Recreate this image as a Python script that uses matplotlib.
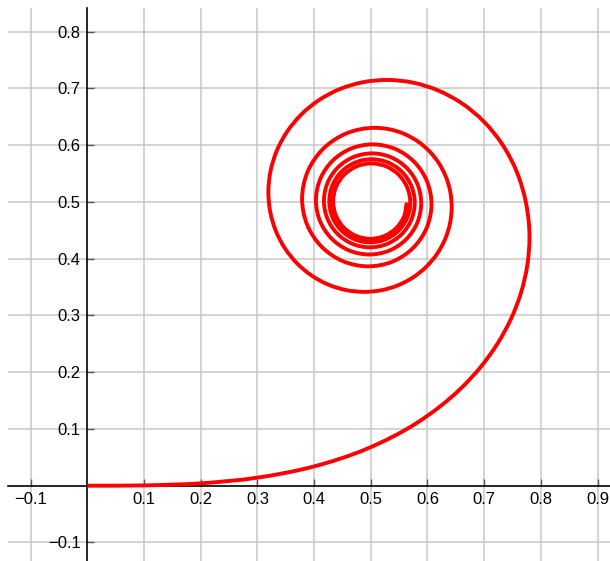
import matplotlib.pyplot as plt
from matplotlib.path import Path
from matplotlib.patches import PathPatch

# points read along the spiral (x, y)
spiral_x = [
    0.0, 0.09999, 0.19992, 0.29940, 0.39748, 0.49234, 0.58110, 0.65965, 0.69353,
    0.72284, 0.74686, 0.76482, 0.77604, 0.77989,
    0.77365, 0.75736, 0.73201, 0.69929, 0.66092, 0.61868, 0.57436, 0.52967,
    0.48626, 0.44562, 0.40911, 0.37784, 0.35273, 0.33440, 0.32325, 0.31937,
    0.32263, 0.33261, 0.34870, 0.37008, 0.39576, 0.42461, 0.45548, 0.48712,
    0.51832, 0.54792, 0.57486, 0.59818, 0.61712, 0.63107, 0.63965, 0.64264,
    0.64009, 0.63222, 0.61945, 0.60240, 0.58179, 0.55850, 0.53344, 0.50763,
    0.45766, 0.41600, 0.38852, 0.37882, 0.38769, 0.41317, 0.45089, 0.49481,
    0.53816, 0.57446, 0.59849, 0.60699, 0.59913, 0.57654, 0.54301, 0.50383,
    0.46506, 0.43251, 0.41092, 0.40327, 0.41039, 0.43089, 0.46136, 0.49702,
    0.53238, 0.56212, 0.58189, 0.58888, 0.58232, 0.56345, 0.53534, 0.50241,
    0.46971, 0.44217, 0.42385, 0.41736, 0.42348, 0.44106, 0.46728, 0.49801,
    0.52855, 0.55431, 0.57143, 0.57751, 0.57176, 0.55525, 0.53060, 0.50169,
    0.47292, 0.44866, 0.43250, 0.42678, 0.43222, 0.44784, 0.47116, 0.49854,
    0.52580, 0.54879, 0.56412, 0.56955, 0.56437, 0.54951, 0.52733, 0.50127,
    0.47532, 0.45341, 0.43880, 0.43364, 0.43857, 0.45277, 0.47397, 0.49888,
    0.52368, 0.54465, 0.55863, 0.56357,
]
spiral_y = [
    0.0, 0.00052, 0.00419, 0.01412, 0.03336, 0.06473, 0.11054, 0.17218, 0.20888,
    0.24934, 0.29316, 0.33970, 0.38846, 0.43826,
    0.49866, 0.55333, 0.60136, 0.64171, 0.67360, 0.69652, 0.71029, 0.71500,
    0.71103, 0.69902, 0.67984, 0.65456, 0.62441, 0.59073, 0.55493, 0.51841,
    0.48258, 0.44874, 0.41807, 0.39162, 0.37023, 0.35453, 0.34492, 0.34156,
    0.34439, 0.35312, 0.36727, 0.38613, 0.40885, 0.43451, 0.46202, 0.49032,
    0.51830, 0.54493, 0.56922, 0.59031, 0.60747, 0.62014, 0.62793, 0.63066,
    0.62111, 0.59371, 0.55323, 0.50621, 0.45990, 0.42118, 0.39559, 0.38655,
    0.39486, 0.41878, 0.45423, 0.49557, 0.53644, 0.57073, 0.59345, 0.60149,
    0.59403, 0.57256, 0.54066, 0.50336, 0.46641, 0.43536, 0.41473, 0.40743,
    0.41425, 0.43389, 0.46312, 0.49733, 0.53129, 0.55987, 0.57885, 0.58560,
    0.57927, 0.56107, 0.53397, 0.50218, 0.47061, 0.44402, 0.42632, 0.42004,
    0.42597, 0.44299, 0.46838, 0.49817, 0.52779, 0.55276, 0.56939, 0.57528,
    0.56970, 0.55364, 0.52969, 0.50157, 0.47359, 0.44998, 0.43426, 0.42869,
    0.43398, 0.44922, 0.47195, 0.49864, 0.52521, 0.54766, 0.56261, 0.56790,
    0.56285, 0.54833, 0.52666, 0.50119, 0.47583, 0.45441, 0.44013, 0.43508,
    0.43992, 0.45380, 0.47456, 0.49894,
]

x_ticks = [-0.1, 0.1, 0.2, 0.3, 0.4, 0.5, 0.6, 0.7, 0.8, 0.9]
y_ticks = [-0.1, 0.1, 0.2, 0.3, 0.4, 0.5, 0.6, 0.7, 0.8]
grid_x = [-0.1, 0.1, 0.2, 0.3, 0.4, 0.5, 0.6, 0.7, 0.8, 0.9]
grid_y = [-0.1, 0.1, 0.2, 0.3, 0.4, 0.5, 0.6, 0.7, 0.8]

plt.rcParams['font.family'] = ['Liberation Sans', 'DejaVu Sans']

fig = plt.figure(figsize=(6.1, 5.61), dpi=100)
ax = fig.add_axes([8 / 610, 0, 602 / 610, 553 / 561])
ax.set_xlim(-0.1399, 0.9219)
ax.set_ylim(-0.1327, 0.8418)

for gx in grid_x:
    ax.axvline(gx, color='#c8c8c8', lw=1.1, zorder=0)
for gy in grid_y:
    ax.axhline(gy, color='#c8c8c8', lw=1.1, zorder=0)

# smooth curve through the read points: cubic Bezier pieces, tangents
# weighted by the (uneven) distance between neighbouring points
pts = list(zip(spiral_x, spiral_y))
n = len(pts)
seg = [((pts[i + 1][0] - pts[i][0]) ** 2 + (pts[i + 1][1] - pts[i][1]) ** 2) ** 0.5
       for i in range(n - 1)]
tang = []
for i in range(n):
    if i == 0:
        tang.append(((pts[1][0] - pts[0][0]) / seg[0], (pts[1][1] - pts[0][1]) / seg[0]))
    elif i == n - 1:
        tang.append(((pts[i][0] - pts[i - 1][0]) / seg[i - 1],
                     (pts[i][1] - pts[i - 1][1]) / seg[i - 1]))
    else:
        d0, d1 = seg[i - 1], seg[i]
        w0 = d1 / (d0 + d1)
        w1 = d0 / (d0 + d1)
        tx = w0 * (pts[i][0] - pts[i - 1][0]) / d0 + w1 * (pts[i + 1][0] - pts[i][0]) / d1
        ty = w0 * (pts[i][1] - pts[i - 1][1]) / d0 + w1 * (pts[i + 1][1] - pts[i][1]) / d1
        tang.append((tx, ty))

verts = [pts[0]]
codes = [Path.MOVETO]
for i in range(n - 1):
    d = seg[i] / 3
    c1 = (pts[i][0] + tang[i][0] * d, pts[i][1] + tang[i][1] * d)
    c2 = (pts[i + 1][0] - tang[i + 1][0] * d, pts[i + 1][1] - tang[i + 1][1] * d)
    verts += [c1, c2, pts[i + 1]]
    codes += [Path.CURVE4] * 3
ax.add_patch(PathPatch(Path(verts, codes), fill=False, edgecolor='#ff0000',
                       lw=2.8, capstyle='butt', joinstyle='round', zorder=3))

for s in ['top', 'right']:
    ax.spines[s].set_visible(False)
ax.spines['left'].set_position(('data', 0))
ax.spines['bottom'].set_position(('data', 0))
ax.spines['left'].set_linewidth(1.2)
ax.spines['bottom'].set_linewidth(1.2)

ax.set_xticks(x_ticks)
ax.set_xticklabels([f"{v:.1f}".replace('-', '\u2212') for v in x_ticks])
ax.set_yticks(y_ticks)
ax.set_yticklabels([f"{v:.1f}".replace('-', '\u2212') for v in y_ticks])
ax.tick_params(direction='in', length=5, width=1, color='#555555',
               labelsize=12, labelcolor='black')
ax.tick_params(axis='x', pad=4.5)
ax.tick_params(axis='y', pad=4.8)

fig.savefig('out.png', dpi=100)
